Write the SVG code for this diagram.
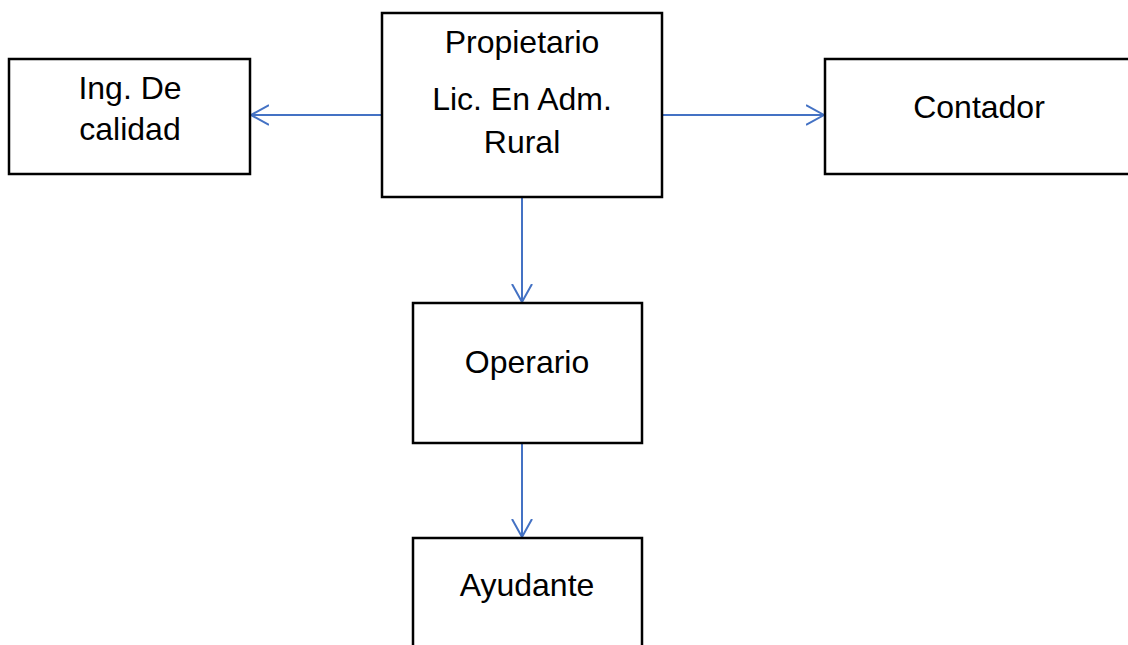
<svg xmlns="http://www.w3.org/2000/svg" width="1128" height="645" viewBox="0 0 1128 645">
<defs>
<style>
.box{fill:#fff;stroke:#000;stroke-width:2.5}
.lbl{font-family:"Liberation Sans",Arial,sans-serif;font-size:32px;fill:#000;text-anchor:middle}
.con{stroke:#4472C4;stroke-width:2;fill:none}
</style>
<marker id="arr" markerWidth="20" markerHeight="24" refX="18" refY="10" orient="auto" markerUnits="userSpaceOnUse" viewBox="0 0 20 20">
<path d="M0,0 L18,10 L0,20" fill="none" stroke="#4472C4" stroke-width="2"/>
</marker>
</defs>
<rect width="1128" height="645" fill="#fff"/>
<g id="connectors">
<line class="con" x1="382" y1="115" x2="251" y2="115" marker-end="url(#arr)"/>
<line class="con" x1="662" y1="115" x2="824" y2="115" marker-end="url(#arr)"/>
<line class="con" x1="522" y1="197" x2="522" y2="302" marker-end="url(#arr)"/>
<line class="con" x1="522" y1="443" x2="522" y2="537" marker-end="url(#arr)"/>
</g>
<g id="ing">
<rect class="box" x="9" y="59" width="241" height="115"/>
<text class="lbl" x="130" y="99">Ing. De</text>
<text class="lbl" x="130" y="140">calidad</text>
</g>
<g id="propietario">
<rect class="box" x="382" y="13" width="280" height="184"/>
<text class="lbl" x="522" y="53">Propietario</text>
<text class="lbl" x="522" y="110">Lic. En Adm.</text>
<text class="lbl" x="522" y="153">Rural</text>
</g>
<g id="contador">
<rect class="box" x="825" y="59" width="310" height="115"/>
<text class="lbl" x="979" y="118">Contador</text>
</g>
<g id="operario">
<rect class="box" x="413" y="303" width="229" height="140"/>
<text class="lbl" x="527" y="373">Operario</text>
</g>
<g id="ayudante">
<rect class="box" x="413" y="538" width="229" height="120"/>
<text class="lbl" x="527" y="596">Ayudante</text>
</g>
</svg>
